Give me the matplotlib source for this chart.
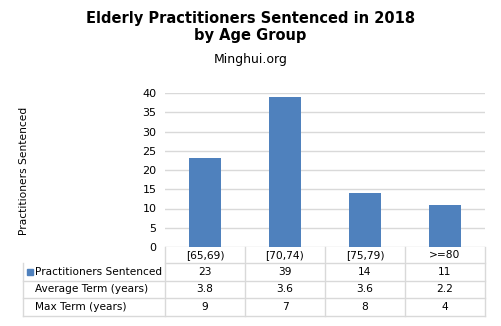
import matplotlib
matplotlib.use("Agg")
import matplotlib.pyplot as plt
from matplotlib.lines import Line2D
from matplotlib.patches import Rectangle

categories = ["[65,69)", "[70,74)", "[75,79)", ">=80"]
sentenced = [23, 39, 14, 11]
avg_term = ["3.8", "3.6", "3.6", "2.2"]
max_term = ["9", "7", "8", "4"]
row_labels = ["Practitioners Sentenced", "Average Term (years)", "Max Term (years)"]
yticks = [0, 5, 10, 15, 20, 25, 30, 35, 40]

BAR = "#4F81BD"
GRID = "#D9D9D9"
TXT = "#000000"

W, H = 501, 326
fig = plt.figure(figsize=(W / 100, H / 100), dpi=100)
fig.patch.set_facecolor("white")

L, R, T, B = 165, 485, 93, 247
ax = fig.add_axes([L / W, 1 - B / H, (R - L) / W, (B - T) / H])
x = list(range(len(categories)))
ax.bar(x, sentenced, width=0.4, color=BAR, zorder=3)
ax.set_xlim(-0.5, len(categories) - 0.5)
ax.set_ylim(0, 40)
ax.set_yticks(yticks)
ax.set_yticklabels([str(v) for v in yticks], fontsize=8, color=TXT)
ax.tick_params(axis="y", length=0, pad=6)
ax.set_xticks([])
for s in ax.spines.values():
    s.set_visible(False)
ax.yaxis.grid(True, color=GRID, linewidth=1)
ax.set_axisbelow(True)

# overlay in pixel coordinates for table and titles
ov = fig.add_axes([0, 0, 1, 1], facecolor="none")
ov.set_xlim(0, W)
ov.set_ylim(H, 0)
ov.axis("off")

fig.text(0.5, 1 - 27 / H, "Elderly Practitioners Sentenced in 2018\nby Age Group",
         ha="center", va="center", fontsize=10.5, fontweight="bold", color=TXT,
         linespacing=1.2)
fig.text(0.5, 1 - 60 / H, "Minghui.org", ha="center", va="center", fontsize=9, color=TXT)
fig.text(24 / W, 1 - 171 / H, "Practitioners Sentenced", rotation=90, ha="center",
         va="center", fontsize=7.7, color=TXT)

# table
col_w = (R - L) / len(categories)
rows_y = [B, 263, 281, 298, 316]
lx = 23
lw = dict(color=GRID, linewidth=1)
ov.add_line(Line2D([L, R], [rows_y[1], rows_y[1]], **lw))
for i in range(len(categories) + 1):
    xx = L + i * col_w
    ov.add_line(Line2D([xx, xx], [rows_y[0], rows_y[-1]], **lw))
for yy in rows_y[2:]:
    ov.add_line(Line2D([lx, R], [yy, yy], **lw))
ov.add_line(Line2D([lx, lx], [rows_y[1], rows_y[-1]], **lw))

for i, c in enumerate(categories):
    cx = L + (i + 0.5) * col_w
    ov.text(cx, (rows_y[0] + rows_y[1]) / 2, c, ha="center", va="center", fontsize=7.7, color=TXT)

data_rows = [[str(v) for v in sentenced], avg_term, max_term]
for r, (lab, vals) in enumerate(zip(row_labels, data_rows)):
    yc = (rows_y[r + 1] + rows_y[r + 2]) / 2
    ov.text(35, yc, lab, ha="left", va="center", fontsize=7.6, color=TXT)
    for i, v in enumerate(vals):
        cx = L + (i + 0.5) * col_w
        ov.text(cx, yc, v, ha="center", va="center", fontsize=7.7, color=TXT)

ov.add_patch(Rectangle((27, 269), 6, 6, color=BAR))

fig.savefig("out.png", dpi=100, facecolor="white")
